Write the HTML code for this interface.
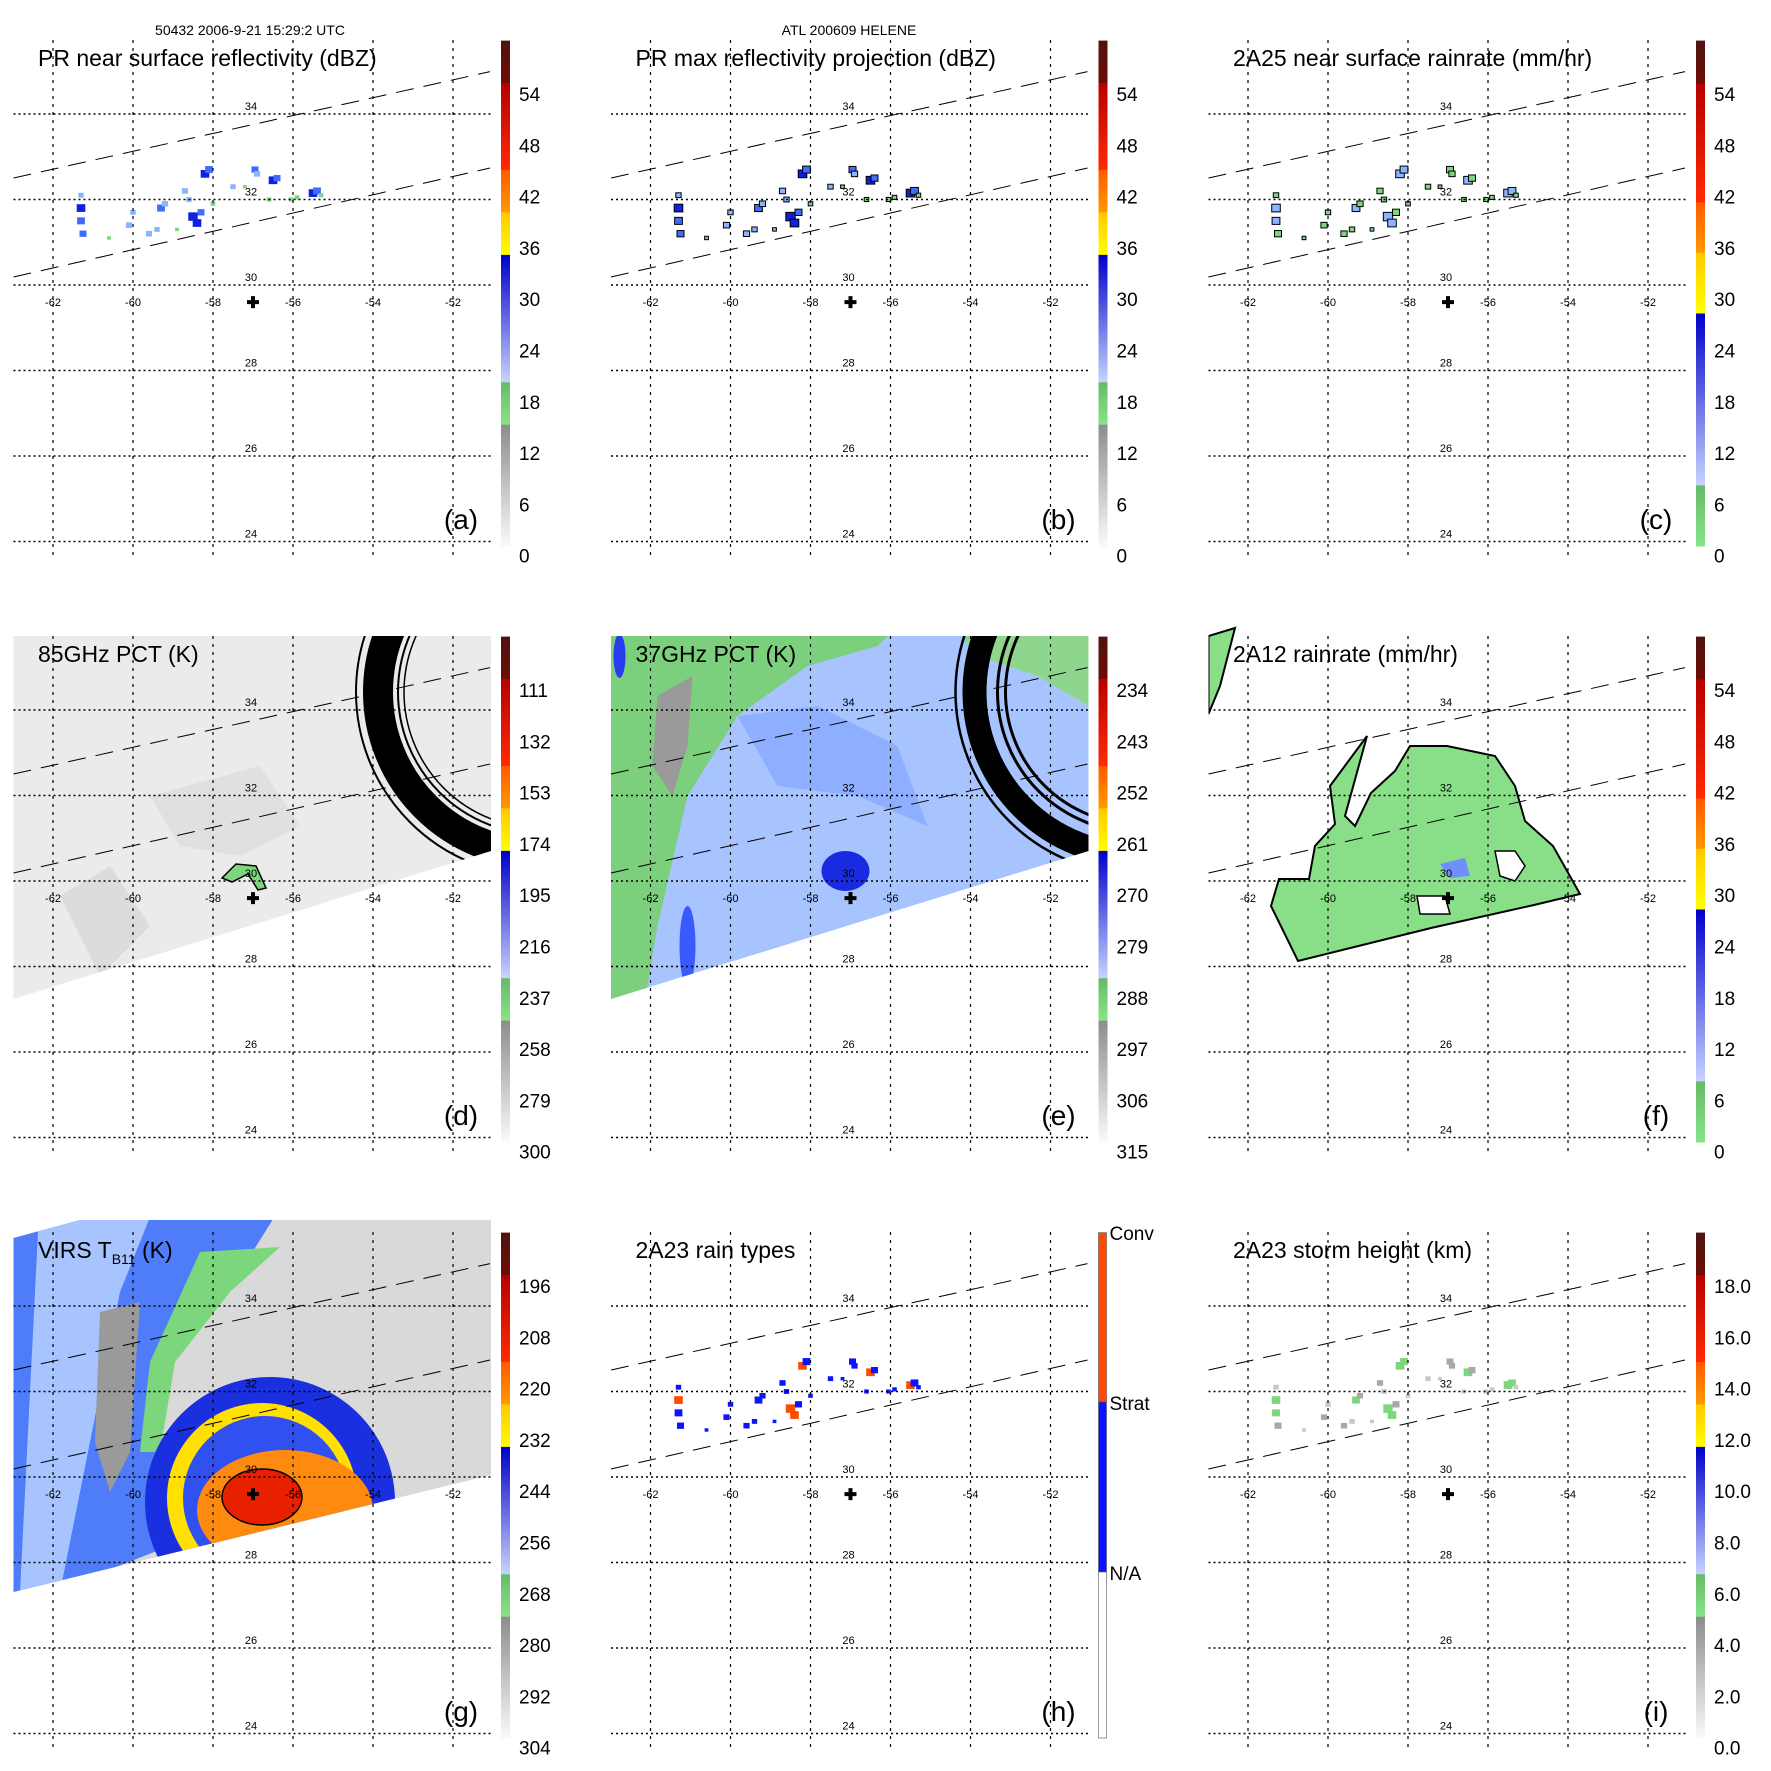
<!DOCTYPE html>
<html><head><meta charset="utf-8"><style>
html,body{margin:0;padding:0;background:#fff}
svg{display:block}
text{font-family:"Liberation Sans",sans-serif}
</style></head><body>
<svg id="fig" xmlns="http://www.w3.org/2000/svg" width="1771" height="1771" viewBox="0 0 1771 1771">
<defs>
<clipPath id="gridclip"><rect x="13.5" y="28" width="477.5" height="530"/></clipPath>
<clipPath id="tmiclip"><polygon points="13.5,40 491,40 491,255 13.5,403"/></clipPath>
<clipPath id="virsclip"><polygon points="13.5,46 80,28 491,28 491,283 13.5,400"/></clipPath>
</defs>
<text x="250" y="35" font-size="14" text-anchor="middle">50432 2006-9-21 15:29:2 UTC</text>
<text x="849" y="35" font-size="14" text-anchor="middle">ATL 200609 HELENE</text>
</svg>
<script>
// ---- data arrays ----
const lonTicks = [-62,-60,-58,-56,-54,-52];
const latTicks = [34,32,30,28,26,24];
const centerLon = -57.0;
const centerLat = 29.6;
// PR echo cells (lon, lat, value dBZ)
const prLon = [-61.3,-61.3,-61.25,-61.3,-60.1,-60.0,-59.3,-59.2,-59.4,-58.5,-58.4,-58.3,-58.7,-58.6,-58.2,-58.1,-58.0,-57.5,-56.95,-56.9,-56.5,-56.4,-56.05,-55.9,-55.5,-55.4,-55.3,-56.6,-57.2,-58.9,-59.6,-60.6];
const prLat = [31.8,31.5,31.2,32.1,31.4,31.7,31.8,31.9,31.3,31.6,31.45,31.7,32.2,32.0,32.6,32.7,31.9,32.3,32.7,32.6,32.45,32.5,32.0,32.05,32.15,32.2,32.1,32.0,32.3,31.3,31.2,31.1];
const prVal = [30,28,26,22,24,22,28,24,22,32,30,26,24,22,30,28,20,22,26,24,30,26,20,20,30,28,20,20,18,18,24,18];
// colourbar tick labels
const cbLabelsA = ['54','48','42','36','30','24','18','12','6','0'];
const cbLabelsD = ['111','132','153','174','195','216','237','258','279','300'];
const cbLabelsE = ['234','243','252','261','270','279','288','297','306','315'];
const cbLabelsG = ['196','208','220','232','244','256','268','280','292','304'];
const cbLabelsI = ['18.0','16.0','14.0','12.0','10.0','8.0','6.0','4.0','2.0','0.0'];

const NS='http://www.w3.org/2000/svg';
const svg=document.getElementById('fig');
function mk(tag,attrs,parent){const e=document.createElementNS(NS,tag);for(const k in attrs)e.setAttribute(k,attrs[k]);(parent||svg).appendChild(e);return e;}
const xOf=lon=>53+(lon+62)*40;
const yOf=lat=>285-(lat-30)*42.75;

const bandsA=[[0,.084,'#4e1410','#6e0c04'],[.084,.256,'#b80000','#ff2a00'],[.256,.34,'#ff5a00','#ff9a00'],[.34,.424,'#ffc800','#ffff00'],[.424,.676,'#0000c8','#c8d4ff'],[.676,.76,'#66bb66','#88e488'],[.76,1,'#8c8c8c','#fafafa']];
const bandsC=[[0,.085,'#4e1410','#6e0c04'],[.085,.32,'#b80000','#ff2a00'],[.32,.42,'#ff5a00','#ff9a00'],[.42,.54,'#ffc800','#ffff00'],[.54,.88,'#0000c8','#c8d4ff'],[.88,1,'#66bb66','#88e488']];
let gid=0;
function colorbar(g,bands,labels){
  const x=501,y0=40.6,h=505.4;
  bands.forEach(b=>{
    const id='cbg'+(gid++);
    const lg=mk('linearGradient',{id:id,x1:0,y1:0,x2:0,y2:1},svg.querySelector('defs'));
    mk('stop',{offset:0,'stop-color':b[2]},lg);mk('stop',{offset:1,'stop-color':b[3]},lg);
    const r=mk('rect',{x:x,y:y0+b[0]*h,width:9,height:(b[1]-b[0])*h+0.5,fill:'url(#'+id+')'},g);
    
    
  });
  labels.forEach((s,i)=>{
    const t=mk('text',{x:519,y:101+i*51.3,'font-size':19},g);t.textContent=s;
    
    
  });
}
function valColor(v){if(v>=36)return '#ffd800';if(v>=30)return '#1020e0';if(v>=26)return '#3f6cff';if(v>=22)return '#8ab4ff';return '#7cd67c';}

function panel(col,row,opt){
  const g=mk('g',{transform:'translate('+(col*597.5)+','+(row*596)+')'});
  
  
  const content=mk('g',{'clip-path':'url(#gridclip)'},g);
  if(opt.draw)opt.draw(content);
  lonTicks.forEach(l=>{const e=mk('line',{x1:xOf(l),x2:xOf(l),y1:40,y2:556,stroke:'#000','stroke-width':1.2,'stroke-dasharray':'3,5'},g);
    
    });
  latTicks.forEach(l=>{const e=mk('line',{x1:13.5,x2:491,y1:yOf(l),y2:yOf(l),stroke:'#000','stroke-width':1.6,'stroke-dasharray':'2,3'},g);
    
    });
  [[178,71.6],[277,168]].forEach(p=>{const e=mk('line',{x1:13.5,y1:p[0],x2:490,y2:p[1],stroke:'#000','stroke-width':1,'stroke-dasharray':'18,10'},g);
    
    });
  latTicks.forEach(l=>{const t=mk('text',{x:251,y:yOf(l)-4,'font-size':11,'text-anchor':'middle'},g);t.textContent=l;
    
    });
  lonTicks.forEach(l=>{const t=mk('text',{x:xOf(l),y:306,'font-size':11,'text-anchor':'middle'},g);t.textContent=l;
    
    });
  const c=mk('path',{d:'M'+(xOf(centerLon)-6)+' '+(yOf(centerLat))+'h12M'+xOf(centerLon)+' '+(yOf(centerLat)-6)+'v12',stroke:'#000','stroke-width':4},g);
  
  
  const t=mk('text',{x:38,y:66,'font-size':23},g);t.innerHTML=opt.title;
  
  
  const pl=mk('text',{x:461,y:529,'font-size':28,'text-anchor':'middle'},g);pl.textContent='('+opt.tag+')';
  
  
  if(opt.cb==='h'){
    const segs=[[40.6,210,'#ff4a00'],[210,380,'#0a14ff'],[380,546,'#ffffff']];
    segs.forEach(s=>{const r=mk('rect',{x:501,y:s[0],width:8,height:s[1]-s[0],fill:s[2],stroke:'#555','stroke-width':0.6},g);
      
      });
    [['Conv',48],['Strat',218],['N/A',388]].forEach(s=>{const tt=mk('text',{x:512,y:s[1],'font-size':19},g);tt.textContent=s[0];
      
      });
  } else colorbar(g,opt.cb==='c'?bandsC:bandsA,opt.labels);
  return g;
}
function specks(g,mode){
  prLon.forEach((lon,i)=>{
    const v=prVal[i];let col=valColor(v);
    if(mode==='c')col=v>=28?'#8ab4ff':'#7cd67c';
    if(mode==='h')col=v>=30?'#ff4a00':'#0a14ff';
    if(mode==='i')col=v>=28?'#7cd67c':(v>=24?'#a8a8a8':'#c8c8c8');
    const w=3+(v-16)*0.4;
    const r=mk('rect',{x:xOf(lon)-w/2,y:yOf(prLat[i])-w*0.45,width:w,height:w*0.9,fill:col,stroke:(mode==='b'||mode==='c')?'#000':'none','stroke-width':1},g);
    
    
  });
}
function rings(g,spec){
  spec.forEach(s=>{const c=mk('circle',{cx:540,cy:96,r:s[0],fill:'none',stroke:'#000','stroke-width':s[1]},g);
    
    });
}
function poly(g,pts,fill,name,extra){const p=mk('polygon',Object.assign({points:pts,fill:fill},extra||{}),g);
  
  return p;}

panel(0,0,{tag:'a',title:'PR near surface reflectivity (dBZ)',labels:cbLabelsA,draw:g=>specks(g,'a')});
panel(1,0,{tag:'b',title:'PR max reflectivity projection (dBZ)',labels:cbLabelsA,draw:g=>specks(g,'b')});
panel(2,0,{tag:'c',title:'2A25 near surface rainrate (mm/hr)',labels:cbLabelsA,cb:'c',draw:g=>specks(g,'c')});
panel(0,1,{tag:'d',title:'85GHz PCT (K)',labels:cbLabelsD,draw:g=>{
  const s=mk('g',{'clip-path':'url(#tmiclip)'},g);
  poly(s,'0,0 600,0 600,600 0,600','#ebebeb','tmi-swath-85ghz');
  poly(s,'60,300 110,270 150,330 100,380','#dcdcdc','cold-streak');
  poly(s,'150,200 260,170 300,230 240,260 180,250','#e0e0e0','cold-streak');
  poly(s,'222,282 236,268 256,270 266,292 258,294 248,278 232,286','#7cd67c','green-blob',{stroke:'#000','stroke-width':1.5});
  rings(s,[[162,30],[184,2],[142,2],[136,1.5]]);
}});
panel(1,1,{tag:'e',title:'37GHz PCT (K)',labels:cbLabelsE,draw:g=>{
  const s=mk('g',{'clip-path':'url(#tmiclip)'},g);
  poly(s,'0,0 600,0 600,600 0,600','#a8c4ff','tmi-swath-37ghz');
  poly(s,'0,0 330,0 280,50 210,70 140,120 90,200 60,330 45,420 0,420','#7ccf7c','warm-green-region');
  poly(s,'330,0 491,0 491,110 440,80 380,60','#8ed68e','warm-green-region-right');
  poly(s,'60,100 95,80 90,150 75,200 55,170','#9a9a9a','gray-patch');
  poly(s,'140,120 220,110 300,150 330,230 260,200 180,190','#8eaeff','mid-blue-band');
  const e=mk('ellipse',{cx:248,cy:275,rx:24,ry:20,fill:'#1a2ae0'},s);
  
  
  const e2=mk('ellipse',{cx:90,cy:350,rx:8,ry:40,fill:'#3a5aff'},s);
  
  
  const e3=mk('ellipse',{cx:22,cy:60,rx:6,ry:22,fill:'#2a3cf0'},s);
  
  
  rings(s,[[182,2.5],[163,24],[140,3],[132,3]]);
}});
panel(2,1,{tag:'f',title:'2A12 rainrate (mm/hr)',labels:cbLabelsA,cb:'c',draw:g=>{
  poly(g,'135,190 172,140 150,220 160,230 176,197 200,175 215,150 252,150 300,160 320,190 330,225 358,250 385,298 339,309 236,332 103,365 76,310 84,283 114,283 120,250 140,228','#88df88','rain-region',{stroke:'#000','stroke-width':2});
  poly(g,'13.5,40 40,32 25,90 13.5,118','#88df88','rain-region-edge',{stroke:'#000','stroke-width':2});
  poly(g,'300,255 320,255 330,270 320,285 305,280','#fff','rain-free-hole',{stroke:'#000','stroke-width':1.5});
  poly(g,'222,300 250,300 255,318 225,318','#fff','rain-free-hole',{stroke:'#000','stroke-width':1.5});
  poly(g,'245,268 270,262 275,280 255,282','#6f8fff','heavy-rain');
}});
panel(0,2,{tag:'g',title:'VIRS T<tspan font-size="14" dy="6">B11</tspan><tspan dy="-6"> (K)</tspan>',labels:cbLabelsG,draw:g=>{
  const s=mk('g',{'clip-path':'url(#virsclip)'},g);
  poly(s,'0,0 600,0 600,600 0,600','#d9d9d9','virs-swath');
  poly(s,'0,0 290,0 240,80 170,170 150,290 180,350 0,420','#4f7cf8','cold-cloud-left');
  poly(s,'40,0 160,0 120,100 90,250 60,400 20,400','#a8c4ff','light-blue-band');
  poly(s,'200,60 280,55 230,100 175,170 160,260 140,260 150,170','#7cd67c','green-arc');
  poly(s,'100,120 140,110 130,260 110,300 95,250','#9a9a9a','gray-arc');
  const c1=mk('circle',{cx:270,cy:310,r:125,fill:'#1a30e0'},s);
  
  
  const c2=mk('circle',{cx:262,cy:306,r:95,fill:'#ffe000'},s);
  
  
  const c3=mk('circle',{cx:265,cy:306,r:82,fill:'#3050f0'},s);
  
  
  const c4=mk('ellipse',{cx:285,cy:318,rx:88,ry:60,fill:'#ff8a10'},s);
  
  
  const c5=mk('ellipse',{cx:262,cy:305,rx:40,ry:28,fill:'#e82000',stroke:'#000','stroke-width':1.5},s);
  
  
}});
panel(1,2,{tag:'h',title:'2A23 rain types',cb:'h',draw:g=>specks(g,'h')});
panel(2,2,{tag:'i',title:'2A23 storm height (km)',labels:cbLabelsI,draw:g=>specks(g,'i')});
</script>
</body></html>
